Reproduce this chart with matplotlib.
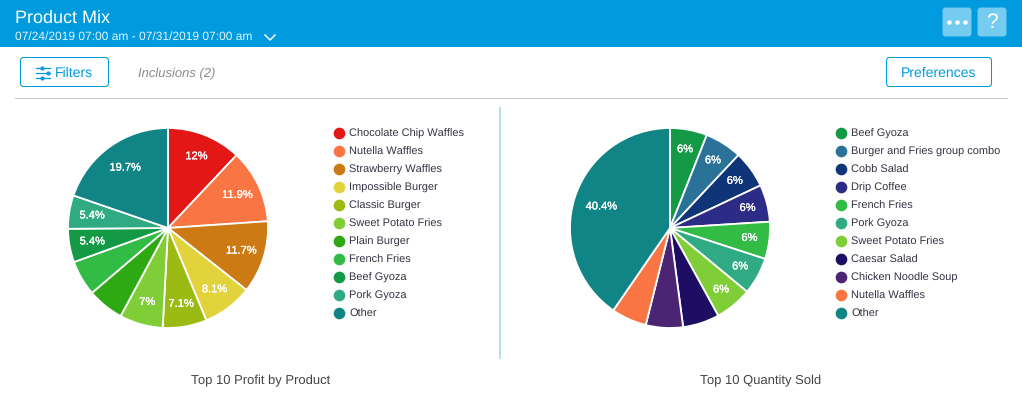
import matplotlib
matplotlib.use('Agg')
import matplotlib.pyplot as plt
import matplotlib.patheffects as pe
from matplotlib.lines import Line2D
from matplotlib.patches import FancyBboxPatch, Rectangle

plt.rcParams['font.family'] = ['Liberation Sans', 'DejaVu Sans']
plt.rcParams['text.hinting'] = 'no_hinting'
plt.rcParams['text.hinting_factor'] = 1

W, H = 1022, 408

# left pie
profit_names = ['Chocolate Chip Waffles', 'Nutella Waffles', 'Strawberry Waffles', 'Impossible Burger',
                'Classic Burger', 'Sweet Potato Fries', 'Plain Burger', 'French Fries',
                'Beef Gyoza', 'Pork Gyoza', 'Other']
profit_values = [12, 11.9, 11.7, 8.1, 7.1, 7, 5.9, 5.7, 5.4, 5.4, 19.7]
profit_labels = ['12%', '11.9%', '11.7%', '8.1%', '7.1%', '7%', '', '', '5.4%', '5.4%', '19.7%']
profit_colors = ['#E41717', '#F97644', '#CC7A14', '#E2D23C', '#9BBB14', '#80CE37', '#2EA914',
                 '#33BC45', '#149A45', '#2FAA82', '#118585']

# right pie
qty_names = ['Beef Gyoza', 'Burger and Fries group combo', 'Cobb Salad', 'Drip Coffee', 'French Fries',
             'Pork Gyoza', 'Sweet Potato Fries', 'Caesar Salad', 'Chicken Noodle Soup',
             'Nutella Waffles', 'Other']
qty_values = [6, 6, 6, 6, 6, 6, 6, 5.9, 6.0, 5.7, 40.4]
qty_labels = ['6%', '6%', '6%', '6%', '6%', '6%', '6%', '', '', '', '40.4%']
qty_colors = ['#149A45', '#2B7299', '#0F3477', '#2C2B85', '#33BC45', '#2FAA82', '#80CE37',
              '#1D0E63', '#4B2574', '#F97644', '#118585']

BLUE = '#009ADE'

fig = plt.figure(figsize=(W / 100, H / 100), dpi=100, facecolor='white')

# page chrome in pixel coordinates
bg = fig.add_axes([0, 0, 1, 1])
bg.set_xlim(0, W)
bg.set_ylim(H, 0)
bg.axis('off')


def button(x, y, w, h, face, edge):
    bg.add_patch(FancyBboxPatch((x + 3.5, y + 3.5), w - 7, h - 7, boxstyle='round,pad=3,rounding_size=3',
                                fc=face, ec=edge, lw=0.75, snap=False))


bg.add_patch(Rectangle((0, 0), W, 47, fc=BLUE, ec='none'))
bg.text(15, 18.5, 'Product Mix', color='white', fontsize=13.2, va='center')
bg.text(15, 36.5, '07/24/2019 07:00 am - 07/31/2019 07:00 am', color='#E4F4FB', fontsize=8.7, va='center')
bg.plot([265, 270, 275], [35, 40, 35], color='#E4F4FB', lw=1.2)

button(942, 7, 30, 30, '#76CBF0', 'none')
button(977, 7, 30, 30, '#76CBF0', 'none')
bg.plot([949, 957, 965], [22, 22, 22], ls='none', marker='o', ms=3.2, mew=0, color='white')
bg.text(992, 23, '?', color='white', fontsize=15, ha='center', va='center')

button(20, 57, 89, 30, 'white', BLUE)
for y, knob in [(68, 41.5), (73, 47.5), (77.5, 41.5)]:
    bg.plot([36, 50], [y, y], color=BLUE, lw=0.9)
    bg.plot([knob], [y], marker='o', ms=3, mew=0, color=BLUE)
bg.text(55, 73.5, 'Filters', color=BLUE, fontsize=9.9, va='center')
bg.text(138, 73.5, 'Inclusions (2)', color='#8A8A8A', fontsize=9.1, style='italic', va='center')

button(886, 57, 106, 30, 'white', BLUE)
bg.text(939, 73.5, 'Preferences', color=BLUE, fontsize=9.9, ha='center', va='center')

bg.plot([15, 1007], [97.5, 97.5], color='#C8C8C8', lw=0.75)
bg.plot([500, 500], [108, 358], color='#A8D8E8', lw=1.2)

bg.text(260.5, 381, 'Top 10 Profit by Product', color='#444444', fontsize=9.45, ha='center', va='center')
bg.text(761, 381, 'Top 10 Quantity Sold', color='#444444', fontsize=9.45, ha='center', va='center')


def draw_pie(cx, values, labels, colors, names, legend_x, dist, big_dist):
    ax = fig.add_axes([(cx - 100) / W, (H - 328) / H, 200 / W, 200 / H])
    _, texts = ax.pie(values, labels=labels, colors=colors, startangle=90, counterclock=False, radius=1,
                      labeldistance=dist, wedgeprops={'edgecolor': 'white', 'linewidth': 1.3},
                      textprops={'color': 'white', 'fontsize': 8})
    for t, v in zip(texts, values):
        t.set_ha('center')
        t.set_va('center')
        t.set_path_effects([pe.withStroke(linewidth=0.2, foreground='white')])
        if v > 15:
            # the large slice carries its label a bit nearer the centre
            x, y = t.get_position()
            t.set_position((x * big_dist / dist, y * big_dist / dist))
    ax.set_xlim(-1, 1)
    ax.set_ylim(-1, 1)
    handles = [Line2D([], [], ls='none', marker='o', ms=8.4, color=c, mew=0) for c in colors]
    fig.legend(handles, names, loc='upper left', bbox_to_anchor=(legend_x / W, (H - 128.5) / H),
               frameon=False, fontsize=7.8, labelspacing=0.72, borderpad=0, borderaxespad=0,
               handlelength=0.9, handletextpad=0.5, labelcolor='#333344')


draw_pie(168, profit_values, profit_labels, profit_colors, profit_names, 334, 0.77, 0.74)
draw_pie(670, qty_values, qty_labels, qty_colors, qty_names, 836, 0.80, 0.72)

fig.savefig('out.png', dpi=100)
